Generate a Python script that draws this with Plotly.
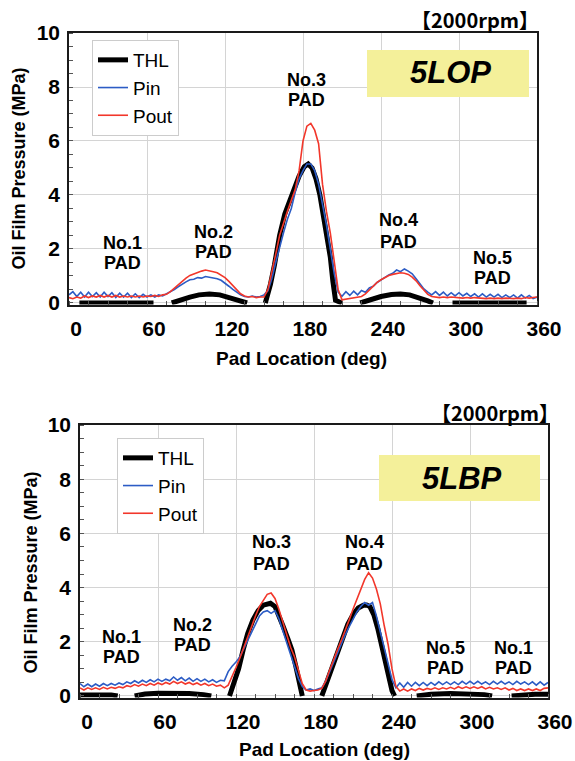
import plotly.graph_objects as go

# ---------------- data ----------------
X = list(range(0, 361, 3))

# Top chart (5LOP)
top_pin = [
    0.30, 0.42, 0.24, 0.40, 0.22, 0.40, 0.24, 0.38, 0.22, 0.40,
    0.24, 0.38, 0.20, 0.36, 0.22, 0.36, 0.20, 0.34, 0.20, 0.32,
    0.22, 0.30, 0.22, 0.30, 0.26, 0.34, 0.40, 0.50, 0.60, 0.70,
    0.78, 0.86, 0.88, 0.94, 0.92, 0.98, 0.96, 0.94, 0.90, 0.84,
    0.74, 0.62, 0.50, 0.40, 0.30, 0.24, 0.22, 0.26, 0.22, 0.24,
    0.30, 0.45, 0.90, 1.50, 2.10, 2.60, 3.10, 3.50, 4.10, 4.60,
    4.90, 5.15, 5.15, 4.90, 4.40, 3.70, 2.90, 2.00, 1.10, 0.40,
    0.25, 0.42, 0.28, 0.44, 0.30, 0.46, 0.40, 0.56, 0.62, 0.76,
    0.86, 0.96, 1.04, 1.10, 1.22, 1.16, 1.26, 1.18, 1.08, 0.90,
    0.72, 0.52, 0.40, 0.30, 0.42, 0.28, 0.40, 0.26, 0.38, 0.26,
    0.38, 0.26, 0.36, 0.24, 0.34, 0.22, 0.34, 0.22, 0.32, 0.22,
    0.32, 0.20, 0.30, 0.20, 0.30, 0.18, 0.30, 0.18, 0.28, 0.16,
    0.22,
]
top_pout = [
    0.20, 0.16, 0.22, 0.18, 0.26, 0.20, 0.26, 0.22, 0.28, 0.22,
    0.28, 0.22, 0.28, 0.22, 0.26, 0.22, 0.26, 0.22, 0.26, 0.22,
    0.26, 0.24, 0.28, 0.24, 0.30, 0.32, 0.42, 0.55, 0.68, 0.82,
    0.92, 1.02, 1.08, 1.14, 1.18, 1.22, 1.20, 1.16, 1.12, 1.04,
    0.94, 0.80, 0.64, 0.48, 0.34, 0.26, 0.22, 0.24, 0.20, 0.22,
    0.22, 0.50, 1.10, 1.80, 2.50, 3.00, 3.40, 3.80, 4.20, 4.90,
    6.00, 6.55, 6.65, 6.40, 5.90, 4.40, 3.40, 2.60, 1.50, 0.50,
    0.12, 0.14, 0.16, 0.18, 0.20, 0.24, 0.34, 0.48, 0.62, 0.76,
    0.86, 0.94, 1.02, 1.06, 1.08, 1.12, 1.10, 1.06, 0.96, 0.82,
    0.64, 0.46, 0.32, 0.24, 0.22, 0.20, 0.22, 0.20, 0.22, 0.20,
    0.20, 0.18, 0.20, 0.18, 0.20, 0.18, 0.18, 0.16, 0.18, 0.16,
    0.18, 0.16, 0.18, 0.16, 0.16, 0.18, 0.16, 0.20, 0.18, 0.20,
    0.22,
]
top_thl_x = [8, 65, None,
             79, 86, 93, 100, 108, 116, 124, 131, 137, None,
             151, 155, 158, 162, 166, 170, 173, 177, 181, 184, 187, 190, 193, 196, 198.5, 201, 203, 205, 210, None,
             224, 232, 240, 248, 255, 262, 270, 276, 280, None,
             295, 352]
top_thl_y = [0, 0, None,
             0, 0.12, 0.22, 0.30, 0.33, 0.30, 0.20, 0.10, 0, None,
             0, 0.7, 1.4, 2.5, 3.3, 3.8, 4.2, 4.7, 5.05, 5.15, 5.0, 4.6, 4.0, 3.2, 2.6, 1.7, 0.8, 0.1, 0, None,
             0, 0.14, 0.24, 0.31, 0.33, 0.30, 0.20, 0.08, 0, None,
             0, 0]

# Bottom chart (5LBP)
bot_pin = [
    0.46, 0.34, 0.44, 0.34, 0.44, 0.36, 0.46, 0.38, 0.46, 0.40,
    0.48, 0.42, 0.52, 0.46, 0.56, 0.48, 0.58, 0.50, 0.60, 0.52,
    0.62, 0.54, 0.62, 0.56, 0.70, 0.58, 0.68, 0.56, 0.66, 0.54,
    0.64, 0.54, 0.62, 0.52, 0.60, 0.50, 0.58, 0.56, 0.90, 1.10,
    1.25, 1.45, 1.75, 2.05, 2.40, 2.70, 2.95, 3.10, 3.15, 3.05,
    3.15, 2.85, 2.40, 2.00, 1.50, 1.05, 0.65, 0.35, 0.22, 0.26,
    0.20, 0.26, 0.30, 0.55, 0.90, 1.25, 1.60, 1.95, 2.25, 2.55,
    2.85, 3.10, 3.30, 3.45, 3.35, 3.45, 2.95, 2.40, 1.80, 1.20,
    0.60, 0.30, 0.48, 0.32, 0.50, 0.36, 0.50, 0.38, 0.50, 0.38,
    0.50, 0.40, 0.52, 0.42, 0.52, 0.42, 0.52, 0.42, 0.54, 0.44,
    0.54, 0.44, 0.54, 0.44, 0.52, 0.42, 0.54, 0.44, 0.54, 0.44,
    0.52, 0.42, 0.54, 0.44, 0.52, 0.42, 0.52, 0.40, 0.52, 0.40,
    0.50,
]
bot_pout = [
    0.30, 0.22, 0.30, 0.24, 0.30, 0.24, 0.32, 0.26, 0.32, 0.28,
    0.34, 0.30, 0.38, 0.34, 0.42, 0.36, 0.44, 0.38, 0.46, 0.40,
    0.48, 0.42, 0.50, 0.44, 0.54, 0.46, 0.52, 0.44, 0.50, 0.42,
    0.48, 0.40, 0.46, 0.38, 0.44, 0.36, 0.40, 0.30, 0.40, 0.70,
    1.05, 1.40, 1.80, 2.15, 2.55, 2.95, 3.30, 3.55, 3.75, 3.80,
    3.60, 3.20, 2.70, 2.20, 1.80, 1.45, 0.90, 0.45, 0.22, 0.18,
    0.20, 0.22, 0.28, 0.55, 0.95, 1.35, 1.70, 2.05, 2.40, 2.80,
    3.20, 3.55, 3.95, 4.30, 4.55, 4.35, 3.95, 3.40, 2.60, 1.90,
    1.00, 0.35, 0.18, 0.26, 0.18, 0.26, 0.20, 0.28, 0.22, 0.28,
    0.24, 0.30, 0.24, 0.30, 0.26, 0.32, 0.26, 0.34, 0.28, 0.34,
    0.28, 0.34, 0.28, 0.34, 0.26, 0.32, 0.26, 0.30, 0.24, 0.30,
    0.22, 0.28, 0.20, 0.26, 0.20, 0.26, 0.20, 0.26, 0.20, 0.28,
    0.30,
]
bot_thl_x = [0, 12, 24, 29, None,
             42, 50, 60, 72, 84, 95, 101, None,
             115, 119, 122, 125.5, 129, 133, 137, 141, 146.5, 150, 153, 156, 160, 163, 166, 168, 170, 171, None,
             186, 189, 193, 196, 198.5, 202, 206, 210, 214, 218, 220.5, 223, 226, 229, 232, 235, 238, 240, 242, None,
             259, 270, 285, 300, 311, 317, None,
             332, 340, 350, 360]
bot_thl_y = [0.04, 0.06, 0.04, 0, None,
             0, 0.07, 0.10, 0.10, 0.09, 0.05, 0, None,
             0, 0.5, 1.0, 1.7, 2.3, 2.8, 3.15, 3.35, 3.42, 3.3, 3.0, 2.6, 2.1, 1.7, 1.1, 0.6, 0.2, 0, None,
             0, 0.4, 0.9, 1.3, 1.7, 2.2, 2.65, 3.0, 3.25, 3.35, 3.36, 3.3, 3.0, 2.5, 1.9, 1.2, 0.6, 0.2, 0, None,
             0, 0.06, 0.09, 0.08, 0.05, 0, None,
             0, 0.04, 0.06, 0.06]

assert len(top_pin) == len(X) == len(top_pout) == len(bot_pin) == len(bot_pout)

x_ticks = [0, 60, 120, 180, 240, 300, 360]
y_ticks = [0, 2, 4, 6, 8, 10]
series_names = ["THL", "Pin", "Pout"]

# pad labels: (line1, line2, x, y1, y2)
top_pads = [("No.1", "PAD", 40.8, 2.22, 1.48),
            ("No.2", "PAD", 110.8, 2.63, 1.89),
            ("No.3", "PAD", 183.0, 8.26, 7.52),
            ("No.4", "PAD", 253.8, 3.07, 2.26),
            ("No.5", "PAD", 326.0, 1.67, 0.93)]
bot_pads = [("No.1", "PAD", 32.3, 2.18, 1.44),
            ("No.2", "PAD", 86.2, 2.62, 1.88),
            ("No.3", "PAD", 147.5, 5.68, 4.87),
            ("No.4", "PAD", 219.2, 5.68, 4.87),
            ("No.5", "PAD", 280.8, 1.76, 1.02),
            ("No.1", "PAD", 333.3, 1.76, 1.02)]

# ---------------- styling ----------------
W, H = 575, 761
FONT = "Liberation Sans, Arial, Noto Sans CJK JP, sans-serif"
CJK = "Noto Sans CJK JP, Liberation Sans, sans-serif"
BLUE = "#2c5cc5"
RED = "#f2372b"
GRID = "#d4d4d4"

fig = go.Figure()

def add_set(xa, ya, leg, thl_x, thl_y, pin, pout):
    fig.add_trace(go.Scatter(x=thl_x, y=thl_y, mode="lines", name=series_names[0],
                             line=dict(color="black", width=5), connectgaps=False,
                             xaxis=xa, yaxis=ya, legend=leg))
    fig.add_trace(go.Scatter(x=X, y=pin, mode="lines", name=series_names[1],
                             line=dict(color=BLUE, width=1.6), xaxis=xa, yaxis=ya, legend=leg))
    fig.add_trace(go.Scatter(x=X, y=pout, mode="lines", name=series_names[2],
                             line=dict(color=RED, width=1.6), xaxis=xa, yaxis=ya, legend=leg))

add_set("x", "y", "legend", top_thl_x, top_thl_y, top_pin, top_pout)
add_set("x2", "y2", "legend2", bot_thl_x, bot_thl_y, bot_pin, bot_pout)

def xaxis_cfg(domain, anchor):
    return dict(domain=domain, anchor=anchor, range=[0, 360], tickvals=x_ticks,
                showgrid=True, gridcolor=GRID, gridwidth=1, zeroline=False, automargin=False,
                showline=True, mirror=True, linecolor="#1a1a1a", linewidth=1.6,
                ticks="", ticklabelshift=7, ticklabelstandoff=4,
                tickfont=dict(family=FONT, size=21, color="black", weight="bold"),
                minor=dict(dtick=15, ticks="inside", ticklen=4, tickcolor="#555", showgrid=False))

def yaxis_cfg(domain, anchor):
    return dict(domain=domain, anchor=anchor, range=[-0.06, 10], tickvals=y_ticks,
                showgrid=True, gridcolor=GRID, gridwidth=1, zeroline=False, automargin=False,
                showline=True, mirror=True, linecolor="#1a1a1a", linewidth=1.6,
                ticks="", ticklabelstandoff=3,
                tickfont=dict(family=FONT, size=21, color="black", weight="bold"),
                minor=dict(dtick=0.5, ticks="inside", ticklen=4, tickcolor="#555", showgrid=False))

def px_x(p):
    return p / W

def px_y(p):
    return 1 - p / H

def ann(x, y, text, font, xref="paper", yref="paper", **kw):
    return dict(x=x, y=y, xref=xref, yref=yref, text=text, showarrow=False,
                xanchor="center", yanchor="middle", font=font, **kw)

pad_font = dict(family=FONT, size=18, color="black", weight="bold")
annotations = []
for (l1, l2, xx, y1, y2) in top_pads:
    for txt, yy in ((l1, y1), (l2, y2)):
        annotations.append(ann(xx, yy, txt, pad_font, "x", "y"))
for (l1, l2, xx, y1, y2) in bot_pads:
    for txt, yy in ((l1, y1), (l2, y2)):
        annotations.append(ann(xx, yy, txt, pad_font, "x2", "y2"))

title_font = dict(family=FONT, size=19, color="black", weight="bold")
ytitle_font = dict(family=FONT, size=18, color="black", weight="bold")
rpm_font = dict(family=CJK, size=20, color="black", weight="bold")
box_font = dict(family=FONT, size=31, color="black", weight="bold", style="italic")
annotations += [
    ann(px_x(301), px_y(359), "Pad Location (deg)", title_font),
    ann(px_x(324), px_y(749), "Pad Location (deg)", title_font),
    ann(px_x(18), px_y(168.5), "Oil Film Pressure (MPa)", ytitle_font, textangle=-90),
    ann(px_x(30), px_y(572.5), "Oil Film Pressure (MPa)", ytitle_font, textangle=-90),
    ann(px_x(475), px_y(20), "【2000rpm】", rpm_font),
    ann(px_x(495), px_y(412), "【2000rpm】", rpm_font),
    ann(px_x(450), px_y(72), "5LOP", box_font),
    ann(px_x(462), px_y(478), "5LBP", box_font),
]

shapes = [
    dict(type="rect", xref="paper", yref="paper", x0=px_x(367), x1=px_x(529), y0=px_y(97), y1=px_y(50),
         fillcolor="#f4f09a", line=dict(width=0), layer="above"),
    dict(type="rect", xref="paper", yref="paper", x0=px_x(379), x1=px_x(540), y0=px_y(501), y1=px_y(455),
         fillcolor="#f4f09a", line=dict(width=0), layer="above"),
]

legend_common = dict(bgcolor="white", bordercolor="#cccccc", borderwidth=1,
                     font=dict(family=FONT, size=19, color="black"),
                     xanchor="left", yanchor="top", itemwidth=30)

fig.update_layout(
    width=W, height=H, autosize=False,
    margin=dict(l=0, r=0, t=0, b=0, pad=0, autoexpand=False),
    paper_bgcolor="white", plot_bgcolor="white",
    xaxis=xaxis_cfg([px_x(69), px_x(537)], "y"),
    yaxis=yaxis_cfg([px_y(304.6), px_y(33)], "x"),
    xaxis2=xaxis_cfg([px_x(80), px_x(548)], "y2"),
    yaxis2=yaxis_cfg([px_y(697.6), px_y(425)], "x2"),
    legend=dict(x=px_x(92), y=px_y(40), **legend_common),
    legend2=dict(x=px_x(117), y=px_y(438), **legend_common),
    annotations=annotations,
    shapes=shapes,
    showlegend=True,
)

fig.write_html("out.html")
